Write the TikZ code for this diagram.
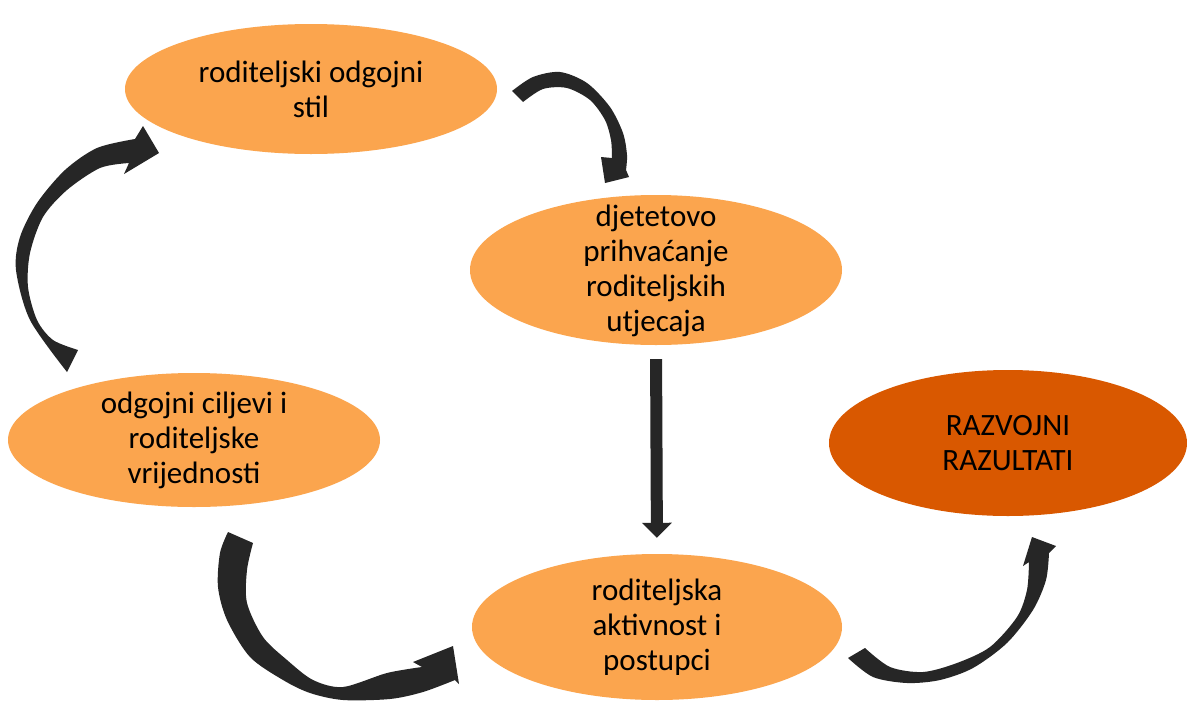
\documentclass[tikz,border=0pt]{standalone}
\usepackage{fontspec}
\setmainfont{Carlito}
\usetikzlibrary{shapes.geometric,arrows.meta}
\definecolor{lor}{HTML}{FBA54E}
\definecolor{dor}{HTML}{D95800}
\definecolor{arr}{HTML}{262626}
\begin{document}
\begin{tikzpicture}[x=1pt,y=-1pt,
  bub/.style={ellipse, fill=lor, inner sep=0pt},
  lbl/.style={align=center, text=black, inner sep=0pt, font=\fontsize{31}{35}\selectfont},
  blk/.style={fill=arr},
  straight/.style={draw=arr, line width=12pt, -{Triangle[length=15pt,width=29pt]}}]
\useasboundingbox (0,0) rectangle (1187,702);
\fill[white] (0,0) rectangle (1187,702);

\node[bub, minimum width=372pt, minimum height=130pt] (stil) at (311,89) {};
\node[bub, minimum width=372pt, minimum height=150pt] (prih) at (656,270) {};
\node[bub, minimum width=372pt, minimum height=134pt] (cilj) at (194,440) {};
\node[bub, minimum width=370pt, minimum height=146pt] (akt) at (657,627) {};
\node[bub, fill=dor, minimum width=358pt, minimum height=146pt] (razv) at (1008,443) {};

\node[lbl] (stil-t) at (stil.center) {roditeljski odgojni\\stil};
\node[lbl] (prih-t) at ([yshift=-1pt]prih.center) {djetetovo\\prihvaćanje\\roditeljskih\\utjecaja};
\node[lbl] (cilj-t) at (cilj.center) {odgojni ciljevi i\\roditeljske\\vrijednosti};
\node[lbl] (akt-t) at (akt.center) {roditeljska\\aktivnost i\\postupci};
\node[lbl] (razv-t) at (razv.center) {RAZVOJNI\\RAZULTATI};

% straight arrow prih -> akt
\draw[straight, shorten <=14pt, shorten >=16pt] (prih.south) -- (akt.north);

% curved arrow: cilj -> stil
\fill[blk] plot[smooth] coordinates {(67,372) (30,320) (16,270) (20,237) (37,203) (65,170) (97,148) (135,139)}
  -- (143,126) -- (159,153) -- (124,174)
  -- plot[smooth] coordinates {(129,163) (100,168) (67,190) (43,217) (30,253) (28,287) (37,320) (53,340) (78,350)} -- cycle;

% curved arrow: stil -> prih
\fill[blk] plot[smooth] coordinates {(512,91) (533,77) (560,72) (587,83) (610,107) (623,133) (627,155) (626,170)}
  -- (629,177) -- (605,183) -- (601,157)
  -- plot[smooth] coordinates {(612,158) (611,140) (605,120) (590,100) (567,88) (543,89) (523,102)} -- cycle;

% curved arrow: cilj -> akt
\fill[blk] plot[smooth] coordinates {(228,532) (220,553) (218,587) (227,620) (250,657) (283,680) (310,693) (343,700) (390,699) (423,692) (455,680)}
  -- (459,684) -- (453,646) -- (413,662)
  -- plot[smooth] coordinates {(422,667) (387,673) (343,687) (313,680) (287,660) (263,637) (247,603) (247,570) (253,543)} -- cycle;

% curved arrow: akt -> razv
\fill[blk] plot[smooth] coordinates {(848,658) (873,677) (907,683) (940,680) (973,668) (1007,643) (1033,610) (1046,580) (1049,553)}
  -- (1056,546) -- (1032,537) -- (1023,566)
  -- plot[smooth] coordinates {(1029,562) (1027,590) (1017,617) (990,647) (957,663) (923,672) (890,667) (865,648)} -- cycle;
\end{tikzpicture}
\end{document}
